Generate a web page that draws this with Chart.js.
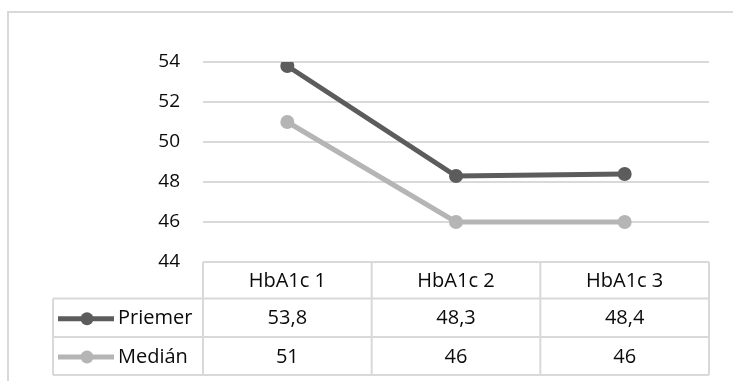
<!DOCTYPE html>
<html>
<head>
<meta charset="utf-8">
<script src="https://cdn.jsdelivr.net/npm/chart.js@4"></script>
<style>
  html, body { margin: 0; padding: 0; background: #fff; overflow: hidden; }
  #wrap { width: 733px; height: 381px; position: relative; }
</style>
</head>
<body>
<div id="wrap"><canvas id="hbaChart" width="733" height="381"></canvas></div>
<script>
// data
const kategorie = ['HbA1c 1', 'HbA1c 2', 'HbA1c 3'];
const nazvySerii = ['Priemer', 'Medián'];
const priemer = [53.8, 48.3, 48.4];
const median = [51, 46, 46];
const yTicks = [44, 46, 48, 50, 52, 54];

const farbaTmava = '#5c5c5c';
const farbaSvetla = '#b5b5b5';
const farbaMriezky = '#d9d9d9';
const farbaTextu = '#0a0a0a';
const pismo = '"Open Sans", sans-serif';

// ramik okolo grafu (vidno len hornu a lavu stranu)
const ramik = {
  id: 'ramik',
  beforeDraw(chart) {
    const ctx = chart.ctx;
    ctx.save();
    ctx.strokeStyle = farbaMriezky;
    ctx.lineWidth = 2;
    ctx.strokeRect(8, 12, 900, 600);
    ctx.restore();
  }
};

// tabulka s hodnotami pod grafom
const tabulka = {
  id: 'tabulka',
  afterDraw(chart) {
    const ctx = chart.ctx;
    const x = chart.scales.x;
    const area = chart.chartArea;
    const krok = x.getPixelForValue(1) - x.getPixelForValue(0);
    const lavo = area.left;
    const pravo = area.right;
    const legLavo = 53;
    const riadky = [area.bottom, area.bottom + 36.5, area.bottom + 75, area.bottom + 113];
    const serie = [priemer, median];
    const farby = [farbaTmava, farbaSvetla];

    ctx.save();
    ctx.strokeStyle = farbaMriezky;
    ctx.lineWidth = 2;
    // horizontalne ciary
    ctx.beginPath();
    ctx.moveTo(lavo, riadky[0]); ctx.lineTo(pravo, riadky[0]);
    for (let r = 1; r < riadky.length; r++) {
      ctx.moveTo(legLavo, riadky[r]); ctx.lineTo(pravo, riadky[r]);
    }
    // vertikalne ciary
    ctx.moveTo(legLavo, riadky[1]); ctx.lineTo(legLavo, riadky[3]);
    for (let i = 0; i <= kategorie.length; i++) {
      const px = lavo + i * krok;
      ctx.moveTo(px, riadky[0]); ctx.lineTo(px, riadky[3]);
    }
    ctx.stroke();

    ctx.font = '20px ' + pismo;
    ctx.fillStyle = farbaTextu;
    ctx.textBaseline = 'middle';
    ctx.textAlign = 'center';
    kategorie.forEach((k, i) => {
      ctx.fillText(k, x.getPixelForValue(i), (riadky[0] + riadky[1]) / 2 + 1);
    });
    serie.forEach((s, r) => {
      const ys = (riadky[r + 1] + riadky[r + 2]) / 2 + 1;
      ctx.textAlign = 'center';
      s.forEach((v, i) => {
        ctx.fillText(String(v).replace('.', ','), x.getPixelForValue(i), ys);
      });
      // znacka legendy
      ctx.strokeStyle = farby[r];
      ctx.lineWidth = 5;
      ctx.beginPath();
      ctx.moveTo(58, ys); ctx.lineTo(114, ys);
      ctx.stroke();
      ctx.fillStyle = farby[r];
      ctx.beginPath();
      ctx.arc(87, ys, 6.5, 0, Math.PI * 2);
      ctx.fill();
      ctx.fillStyle = farbaTextu;
      ctx.textAlign = 'left';
      ctx.fillText(nazvySerii[r], 118, ys);
    });
    ctx.restore();
  }
};

const hbaCtx = document.getElementById('hbaChart').getContext('2d');
const hbaChart = new Chart(hbaCtx, {
  type: 'line',
  data: {
    labels: kategorie,
    datasets: [{
      label: nazvySerii[0],
      data: priemer,
      borderColor: farbaTmava,
      backgroundColor: farbaTmava,
      borderWidth: 5,
      pointRadius: 7,
      pointBorderWidth: 0,
      pointHoverRadius: 7
    }, {
      label: nazvySerii[1],
      data: median,
      borderColor: farbaSvetla,
      backgroundColor: farbaSvetla,
      borderWidth: 5,
      pointRadius: 7,
      pointBorderWidth: 0,
      pointHoverRadius: 7
    }]
  },
  options: {
    responsive: false,
    animation: false,
    devicePixelRatio: 1,
    layout: { padding: { top: 62, right: 24, bottom: 119, left: 0 } },
    plugins: {
      legend: { display: false },
      tooltip: { enabled: false }
    },
    scales: {
      x: {
        display: false,
        offset: true
      },
      y: {
        min: 44,
        max: 54,
        afterFit(scale) { scale.width = 203; },
        afterBuildTicks(scale) { scale.ticks = yTicks.map(v => ({ value: v })); },
        border: { display: false },
        grid: {
          color: ctx => ctx.tick && ctx.tick.value === 44 ? 'rgba(0,0,0,0)' : farbaMriezky,
          lineWidth: 2,
          drawTicks: false
        },
        ticks: {
          padding: 23,
          color: farbaTextu,
          font: { family: pismo, size: 19 }
        }
      }
    }
  },
  plugins: [ramik, tabulka]
});
</script>
</body>
</html>
